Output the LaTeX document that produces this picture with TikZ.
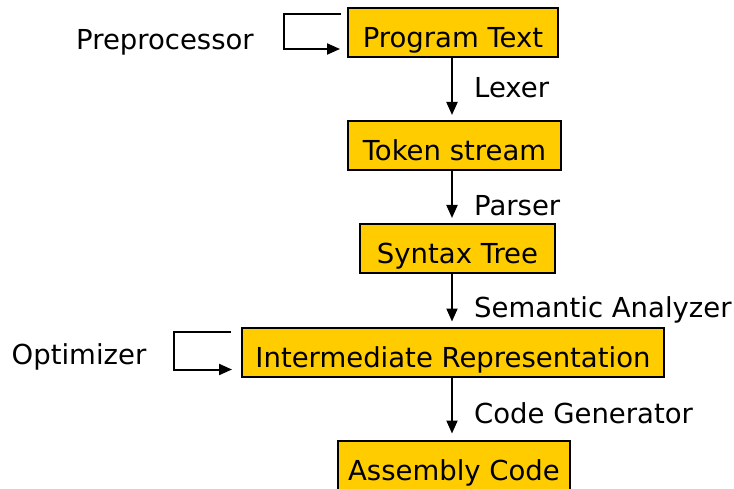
\documentclass[tikz,border=0pt]{standalone}
\usepackage{fontspec}
\setmainfont{DejaVu Sans}
\usepackage{xcolor}
\usetikzlibrary{arrows.meta, positioning}
\definecolor{boxgold}{HTML}{FFCC00}

\begin{document}
\begin{tikzpicture}[x=1pt, y=-1pt, font=\fontsize{27.5}{32}\selectfont]
\tikzstyle{stage} = [rectangle, draw, line width=2pt, fill=boxgold,
    minimum height=49pt, inner sep=3pt, text height=30pt, text depth=0pt]
\tikzstyle{arrow} = [line width=2pt, -{Triangle[length=13pt,width=11pt]}]
\tikzstyle{tag} = [inner sep=0pt, anchor=west]

\useasboundingbox (0,0) rectangle (734,489);

% Nodes
\node [stage, minimum width=210pt] (prog) at (453,32.5) {Program Text};
\node [stage, minimum width=213pt] (token) at (454.5,145.5) {Token stream};
\node [stage, minimum width=195pt] (syntax) at (457.5,248.5) {Syntax Tree};
\node [stage, minimum width=422pt] (inter) at (453,352) {Intermediate Representation};
\node [stage, minimum width=232pt] (asm) at (454,465) {Assembly Code};
\coordinate (axis) at (452,0);

% Labels
\node [inner sep=0pt] (prep) at (165,42) {Preprocessor};
\node [inner sep=0pt] (optim) at (79,357) {Optimizer};
\node [tag] (lexer) at (474,88) {Lexer};
\node [tag] (parser) at (474,206) {Parser};
\node [tag] (semantic) at (474,310) {Semantic Analyzer};
\node [tag] (codegen) at (474,413) {Code Generator};

% Arrows
\draw [arrow] (prog.south -| axis) -- ([yshift=5pt]token.north -| axis);
\draw [arrow] (token.south -| axis) -- ([yshift=5pt]syntax.north -| axis);
\draw [arrow] (syntax.south -| axis) -- ([yshift=5pt]inter.north -| axis);
\draw [arrow] (inter.south -| axis) -- ([yshift=6pt]asm.north -| axis);

% Loops
\draw [arrow] ([xshift=-6pt,yshift=-7pt]prog.north west) -- ++(-57,0)
    |- ([xshift=-7pt,yshift=9pt]prog.south west);
\draw [arrow] ([xshift=-10pt,yshift=-5pt]inter.north west) -- ++(-57,0)
    |- ([xshift=-9pt,yshift=8pt]inter.south west);
\end{tikzpicture}
\end{document}
